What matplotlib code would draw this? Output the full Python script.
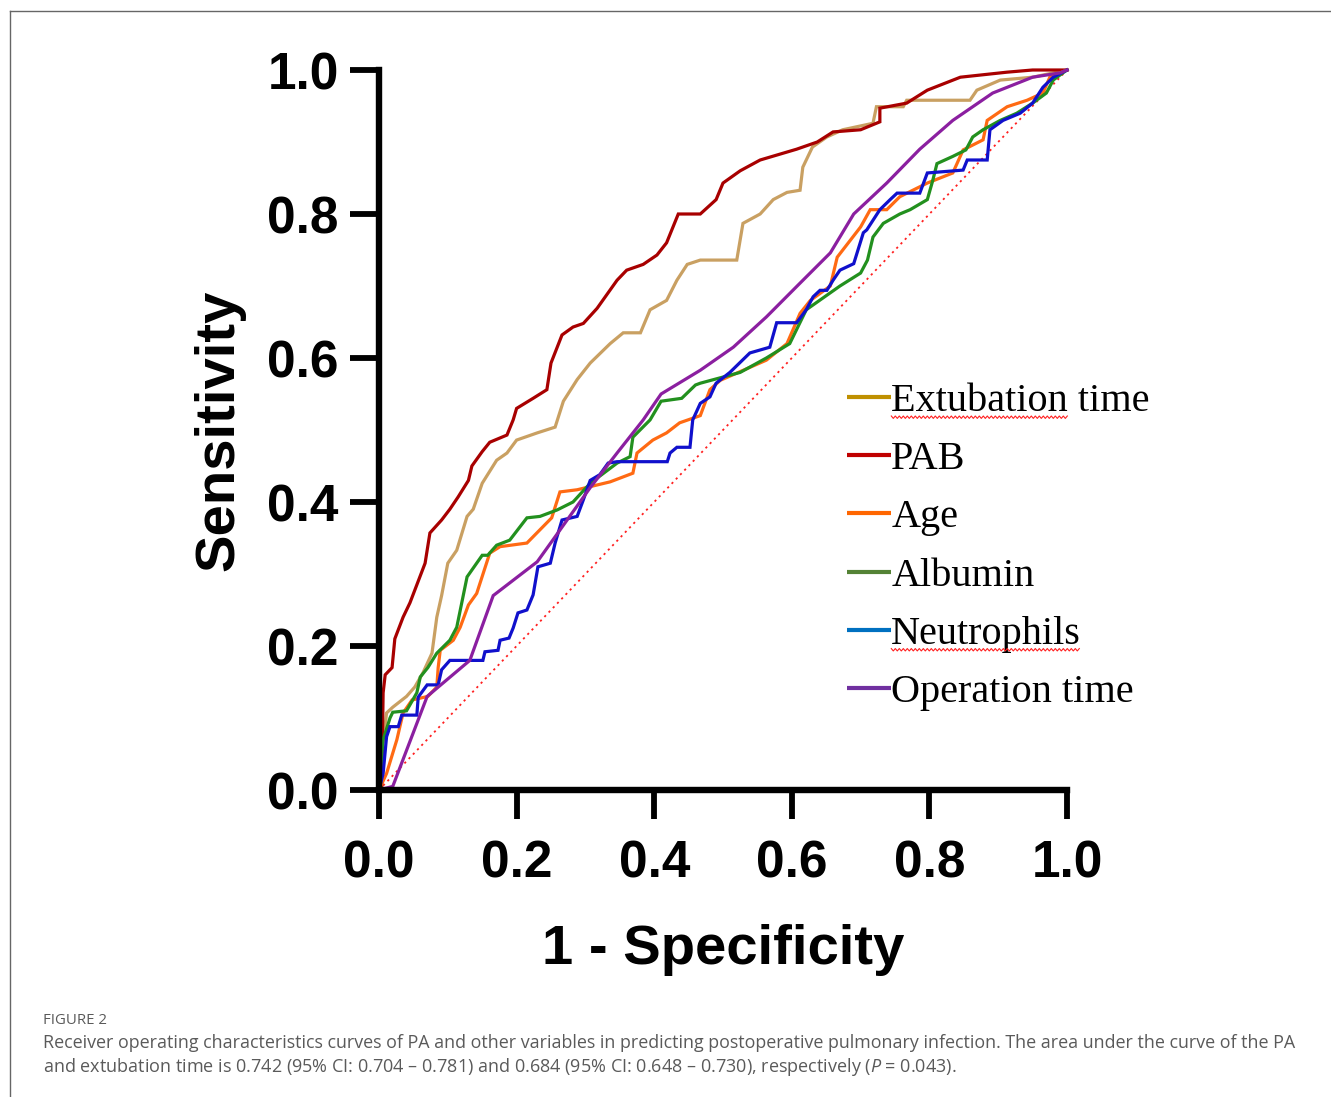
import matplotlib
matplotlib.use("Agg")
import matplotlib.pyplot as plt
from matplotlib.lines import Line2D
from matplotlib.font_manager import FontProperties
import numpy as np

# ---------------- data ----------------
categories = ["Extubation time", "PAB", "Age", "Albumin", "Neutrophils", "Operation time"]

extub_fpr = [0, .004, .011, .02, .04, .052, .064, .077, .084, .091, .10, .113, .128, .137, .15, .171, .186, .20, .23, .256,
             .268, .288, .307, .336, .355, .38, .394, .418, .433, .448, .467, .52, .529, .554, .573, .593, .612, .616, .63,
             .651, .674, .718, .723, .762, .767, .859, .869, .903, .95, 1.0]
extub_tpr = [0, .05, .107, .115, .13, .143, .163, .19, .24, .27, .315, .333, .38, .39, .426, .458, .468, .486, .496, .504,
             .54, .57, .593, .62, .635, .635, .667, .68, .708, .73, .736, .736, .787, .80, .82, .83, .833, .865, .893,
             .907, .917, .926, .949, .949, .958, .958, .972, .986, .99, 1.0]

pab_fpr = [0, .004, .006, .009, .019, .023, .035, .045, .057, .067, .074, .091, .103, .115, .13, .135, .15, .161, .186, .195,
           .20, .224, .244, .25, .266, .282, .297, .317, .346, .36, .384, .404, .418, .435, .467, .49, .50, .525, .554,
           .607, .637, .66, .70, .728, .728, .767, .797, .845, .913, .95, 1.0]
pab_tpr = [0, .004, .135, .16, .17, .21, .24, .26, .29, .315, .357, .375, .39, .407, .43, .45, .47, .483, .493, .514,
           .53, .544, .556, .593, .632, .643, .648, .669, .708, .722, .73, .743, .76, .80, .80, .82, .843, .86, .875,
           .89, .90, .914, .917, .928, .947, .954, .972, .99, .997, 1.0, 1.0]

age_fpr = [0, .011, .026, .035, .048, .071, .084, .086, .089, .108, .118, .13, .142, .161, .176, .215, .251, .263, .288,
           .336, .369, .375, .398, .418, .437, .467, .481, .496, .563, .593, .612, .627, .656, .666, .70, .714, .738,
           .757, .797, .834, .849, .878, .884, .913, .942, .965, .975, 1.0]
age_tpr = [0, .023, .07, .107, .125, .13, .143, .17, .194, .208, .226, .257, .273, .329, .338, .343, .378, .414, .417,
           .428, .44, .468, .486, .496, .51, .52, .556, .569, .597, .62, .662, .68, .70, .74, .782, .806, .806,
           .824, .843, .857, .889, .903, .93, .949, .958, .968, .99, 1.0]

alb_fpr = [0, .006, .016, .02, .04, .055, .06, .071, .084, .103, .113, .128, .15, .158, .171, .19, .215, .234, .259, .282,
           .307, .346, .365, .369, .394, .41, .44, .46, .467, .525, .563, .597, .621, .67, .70, .71, .718, .733, .757,
           .772, .797, .805, .811, .834, .853, .863, .878, .903, .927, .95, .97, .98, .994, 1.0]
alb_tpr = [0, .07, .10, .108, .11, .135, .157, .17, .19, .208, .226, .296, .326, .326, .34, .347, .378, .38, .389, .40,
           .426, .454, .463, .49, .514, .54, .544, .5625, .565, .58, .60, .62, .667, .70, .718, .736, .768, .787, .80,
           .806, .82, .847, .87, .88, .889, .907, .917, .93, .94, .954, .968, .986, .996, 1.0]

neu_fpr = [0, .006, .011, .016, .028, .033, .055, .057, .07, .086, .091, .103, .151, .154, .173, .176, .189, .195, .202,
           .215, .224, .231, .249, .256, .266, .288, .297, .307, .321, .333, .346, .419, .423, .433, .452, .456, .467,
           .481, .49, .51, .539, .568, .578, .607, .621, .631, .641, .651, .66, .67, .69, .704, .709, .728, .743, .753,
           .786, .797, .849, .855, .884, .888, .907, .932, .95, .965, .98, 1.0]
neu_tpr = [0, .023, .074, .088, .088, .104, .104, .129, .146, .146, .167, .18, .18, .192, .194, .208, .211, .225, .246,
           .25, .271, .31, .315, .343, .375, .38, .403, .43, .438, .454, .456, .456, .468, .476, .476, .514, .537,
           .546, .565, .58, .607, .615, .649, .649, .667, .685, .694, .694, .708, .722, .731, .774, .778, .806, .82, .829,
           .829, .857, .861, .875, .875, .917, .93, .94, .954, .976, .99, 1.0]

op_fpr = [0, .02, .07, .132, .166, .23, .26, .307, .346, .384, .41, .467, .515, .563, .612, .656, .69, .738, .786, .834,
          .892, .95, .99, 1.0]
op_tpr = [0, .005, .13, .18, .27, .317, .357, .42, .468, .514, .55, .583, .615, .657, .704, .746, .80, .843, .89, .93,
          .968, .99, .996, 1.0]

ref_line = [0.0, 1.0]
ticks = [0.0, 0.2, 0.4, 0.6, 0.8, 1.0]
tick_labels = ["0.0", "0.2", "0.4", "0.6", "0.8", "1.0"]

curve_colors = ["#C9A062", "#A80000", "#FF6A13", "#22901E", "#1010CC", "#8B1FA0"]
legend_colors = ["#BF9000", "#C00000", "#FF6600", "#548235", "#0070C0", "#7030A0"]

series = [(extub_fpr, extub_tpr), (pab_fpr, pab_tpr), (age_fpr, age_tpr),
          (alb_fpr, alb_tpr), (neu_fpr, neu_tpr), (op_fpr, op_tpr)]

# ---------------- figure ----------------
W, H = 1331, 1097
fig = plt.figure(figsize=(W / 100, H / 100), dpi=100)
fig.patch.set_facecolor("white")

ax = fig.add_axes([379 / W, 307 / H, 688 / W, 720 / H])

ax.plot(ref_line, ref_line, color="#FF2020", lw=1.3, ls=(0, (1.2, 2.2)), zorder=1, clip_on=False)
for (fx, ty), c in zip(series, curve_colors):
    ax.plot(fx, ty, color=c, lw=2.3, zorder=2, clip_on=False, solid_joinstyle="miter")

ax.set_xlim(0, 1)
ax.set_ylim(0, 1)
for s in ["top", "right"]:
    ax.spines[s].set_visible(False)
for s in ["left", "bottom"]:
    ax.spines[s].set_linewidth(4.6)
    ax.spines[s].set_capstyle("projecting")

ax.set_xticks(ticks)
ax.set_yticks(ticks)
tick_font = FontProperties(family="Liberation Sans", weight="bold", size=37)
ax.set_xticklabels(tick_labels, fontproperties=tick_font)
ax.set_yticklabels(tick_labels, fontproperties=tick_font)
ax.tick_params(axis="both", length=21, width=4.2, direction="out", color="black")
ax.tick_params(axis="x", pad=15)
ax.tick_params(axis="y", pad=8)

label_font = FontProperties(family="Liberation Sans", weight="bold", size=40.5)
ax.set_xlabel("1 - Specificity", fontproperties=label_font)
ax.set_ylabel("Sensitivity", fontproperties=label_font)
ax.xaxis.set_label_coords(0.5, (790 - 950) / 720)
ax.xaxis.label.set_va("center")
ax.yaxis.set_label_coords((219 - 379) / 688, 0.5)
ax.yaxis.label.set_va("center")

handles = [Line2D([], [], color=c, lw=3.0, solid_capstyle="butt") for c in legend_colors]
leg = ax.legend(handles, categories, loc="upper left",
                bbox_to_anchor=(847 / W, 1 - 383 / H), bbox_transform=fig.transFigure,
                frameon=False, prop=FontProperties(family="Liberation Serif", size=29),
                handlelength=1.1, handletextpad=0.0, labelspacing=0.52,
                borderpad=0, borderaxespad=0)

# spell-check style red wavy underlines under two legend entries
fig.canvas.draw()
renderer = fig.canvas.get_renderer()
texts = leg.get_texts()

def squiggle(text_artist, word):
    bb = text_artist.get_window_extent(renderer)
    tmp = fig.text(0, 0, word, fontproperties=text_artist.get_fontproperties())
    wbb = tmp.get_window_extent(renderer)
    tmp.remove()
    x0 = bb.x0
    x1 = bb.x0 + wbb.width
    ybase = bb.y0 + 3
    xs = np.arange(x0, x1 + 0.1, 2.0)
    ys = ybase + np.where(np.arange(len(xs)) % 2 == 0, 1.2, -1.2)
    fig.add_artist(Line2D(xs / W, ys / H, transform=fig.transFigure, color="#FF2020", lw=0.8))

squiggle(texts[0], "Extubation")
squiggle(texts[4], "Neutrophils")

# figure frame lines
fig.add_artist(Line2D([9.5 / W, 9.5 / W], [0, 1 - 10.5 / H], transform=fig.transFigure, color="#666666", lw=1.0))
fig.add_artist(Line2D([9.5 / W, 1], [1 - 10.5 / H, 1 - 10.5 / H], transform=fig.transFigure, color="#666666", lw=1.0))

# caption
plt.rcParams["mathtext.fontset"] = "custom"
plt.rcParams["mathtext.it"] = "Open Sans:italic"
plt.rcParams["mathtext.rm"] = "Open Sans"
cap_color = "#5a5a5a"
fig.text(43 / W, 1 - 1020 / H, "FIGURE 2", family="Open Sans", size=10.8, color=cap_color, va="center")
fig.text(43 / W, 1 - 1043 / H,
         "Receiver operating characteristics curves of PA and other variables in predicting postoperative pulmonary infection. "
         "The area under the curve of the PA",
         family="Open Sans", size=12.9, color=cap_color, va="center")
fig.text(43 / W, 1 - 1067 / H,
         "and extubation time is 0.742 (95% CI: 0.704 \u2013 0.781) and 0.684 (95% CI: 0.648 \u2013 0.730), respectively ($P$ = 0.043).",
         family="Open Sans", size=13.0, color=cap_color, va="center")

fig.savefig("out.png", dpi=100, facecolor="white")
